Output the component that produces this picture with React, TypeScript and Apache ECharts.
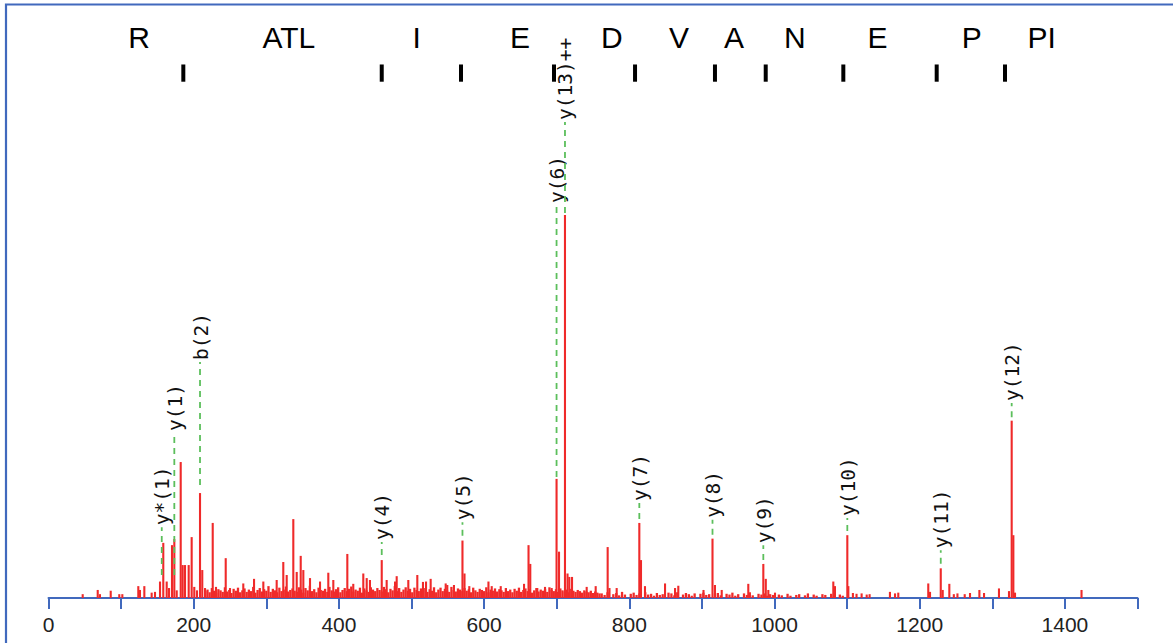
import React, { useEffect, useRef } from "react";
import * as echarts from "echarts";

// Spectrum peaks: [m/z, relative intensity]
const peaks: [number, number][] = [
  [47.1, 1.0], [67.8, 2.1], [70.9, 1.0], [85.7, 1.9], [97.5, 1.0], [101.7, 1.0],
  [123.7, 3.1], [126.0, 2.1], [132.0, 3.1], [142.1, 1.4], [146.7, 1.6], [153.6, 4.3],
  [158.1, 14.4], [162.8, 4.3], [166.0, 2.6], [170.1, 13.8], [173.3, 15.4], [176.6, 2.0],
  [182.1, 35.5], [184.8, 8.6], [188.0, 8.6], [193.1, 8.6], [197.2, 15.9], [200.8, 2.9],
  [204.5, 2.0], [208.7, 27.4], [211.8, 7.3], [215.6, 2.6], [226.2, 19.6], [230.7, 2.9],
  [244.1, 10.4], [250.0, 2.6], [268.3, 3.8], [283.1, 5.0], [295.9, 4.3], [314.3, 4.7],
  [323.4, 9.4], [328.1, 6.0], [337.2, 20.6], [341.9, 6.8], [347.4, 11.0], [351.0, 7.3],
  [360.2, 5.2], [374.0, 4.3], [385.4, 6.6], [392.3, 4.7], [411.6, 11.5], [419.8, 3.7],
  [433.6, 6.4], [438.3, 5.2], [442.8, 4.7], [459.0, 9.9], [465.8, 4.7], [477.3, 4.3],
  [479.6, 5.7], [495.6, 4.7], [508.0, 6.0], [515.8, 4.2], [520.0, 4.3], [526.4, 5.0],
  [547.1, 3.8], [549.3, 3.4], [558.5, 3.4], [570.2, 15.0], [573.0, 6.4], [579.6, 3.1],
  [606.0, 4.3], [610.5, 3.1], [622.9, 3.1], [655.0, 3.7], [661.2, 13.8], [663.6, 8.9],
  [673.3, 2.6], [683.9, 2.9], [693.1, 2.6], [699.8, 31.1], [703.2, 12.1], [711.4, 100],
  [714.9, 6.4], [717.4, 5.5], [721.1, 5.5], [741.3, 2.9], [753.7, 3.1], [770.2, 13.3],
  [772.7, 2.6], [782.6, 2.6], [813.8, 19.6], [816.1, 9.9], [821.6, 3.1], [849.2, 3.8],
  [863.0, 2.6], [867.5, 3.2], [902.2, 2.1], [914.6, 15.5], [918.0, 3.4], [927.3, 2.1],
  [963.9, 3.7], [984.6, 8.9], [988.0, 5.0], [991.5, 2.1], [1000.7, 1.4], [1081.0, 4.3],
  [1083.3, 3.1], [1100.3, 16.4], [1101.7, 3.1], [1108, 1.3], [1113, 1.1], [1120, 1.2],
  [1127, 0.9], [1131, 1.0], [1159, 1.6], [1166, 1.2], [1170.5, 1.4], [1211.8, 3.8],
  [1214.2, 1.6], [1229.0, 7.75], [1231.7, 2.1], [1240.8, 3.7], [1247, 1.0], [1252, 1.2],
  [1262, 1.0], [1269.3, 1.3], [1282.2, 2.1], [1288.6, 1.3], [1309.2, 2.5], [1323.0, 1.8],
  [1326.7, 46.3], [1329.0, 16.4], [1331.3, 1.4], [1422.9, 2.1],
];

// Dense noise floor, m/z 216..759 every 3
const denseNoiseStart = 216;
const denseNoiseStep = 3;
const denseNoise = [
  1.8, 2.2, 1.5, 2.6, 1.9, 1.4, 2.3, 2.0, 1.6, 2.8, 1.7, 2.1, 1.3, 2.4, 1.9, 2.7, 1.5, 2.0, 2.5, 1.6,
  2.2, 1.8, 2.9, 1.4, 2.1, 2.6, 1.7, 2.3, 1.9, 3.1, 1.6, 2.4, 2.0, 1.5, 2.7, 1.8, 2.2, 3.0, 1.7, 2.1,
  2.5, 1.9, 1.6, 2.8, 2.2, 1.4, 2.6, 2.0, 3.2, 1.8, 2.3, 1.5, 2.7, 2.1, 1.9, 2.4, 1.6, 2.9, 2.0, 1.7,
  2.3, 2.8, 1.5, 2.1, 2.6, 1.8, 2.4, 3.0, 1.7, 2.2, 1.9, 2.7, 1.4, 2.5, 2.0, 1.6, 2.8, 2.2, 1.8, 2.6,
  2.1, 1.7, 2.9, 2.3, 1.5, 2.4, 2.0, 3.1, 1.8, 2.6, 1.6, 2.2, 2.8, 1.9, 2.4, 1.5, 2.7, 2.1, 1.8, 2.5,
  2.0, 2.6, 1.6, 2.3, 1.9, 2.8, 1.5, 2.2, 2.7, 1.8, 2.4, 2.0, 1.6, 2.9, 2.1, 1.7, 2.5, 2.2, 1.8, 2.6,
  1.9, 2.3, 1.5, 2.7, 2.0, 1.6, 2.4, 2.1, 1.8, 2.8, 1.5, 2.2, 1.9, 2.5, 1.7, 2.3, 2.0, 1.6, 2.6, 1.8,
  2.2, 1.5, 2.4, 1.9, 2.7, 1.6, 2.1, 2.5, 1.8, 2.3, 1.4, 2.0, 2.6, 1.7, 2.2, 1.9, 2.4, 1.6, 2.8, 2.1,
  1.8, 2.3, 1.6, 2.5, 2.0, 1.7, 2.2, 1.5, 2.4, 1.9, 1.6, 2.1, 1.8, 1.4, 2.0, 1.7, 1.5, 1.9, 1.3, 1.7,
  1.4, 1.2,
];

// Sparse noise floor, m/z 762..1098 every 4
const sparseNoiseStart = 762;
const sparseNoiseStep = 4;
const sparseNoise = [
  1.2, 0.8, 1.5, 0, 1.0, 1.3, 0.7, 1.6, 0.9, 0, 1.1, 1.4, 0.8, 1.2, 0, 1.5, 0.9, 1.1, 0.6, 1.3,
  0.8, 1.0, 0, 1.4, 1.2, 0.7, 1.5, 0, 0.9, 1.3, 1.0, 0.6, 1.2, 0, 1.1, 1.4, 0.8, 1.0, 0, 1.2,
  1.3, 0.7, 0, 1.1, 0.9, 1.4, 0.6, 1.0, 0, 1.2, 0.8, 1.5, 0.7, 0, 1.1, 0.9, 1.2, 0.6, 1.0, 0.8,
  0, 0.9, 0.7, 0, 1.1, 0.6, 0, 0.8, 1.0, 0, 0.7, 1.2, 0, 0.9, 0.6, 0, 1.0, 0.8, 0, 1.1,
  0.7, 0, 0.9, 0.6, 0,
];

// Annotated fragment ions
const ionLabels = ["y*(1)", "y(1)", "b(2)", "y(4)", "y(5)", "y(6)", "y(13)++", "y(7)", "y(8)", "y(9)", "y(10)", "y(11)", "y(12)"];
const ionMz = [156.0, 173.3, 208.7, 459.0, 570.2, 699.8, 711.4, 813.8, 914.6, 984.6, 1100.3, 1229.0, 1326.7];
const ionFrom = [5.5, 5.5, 29.0, 10.7, 15.7, 31.1, 100, 20.1, 16.0, 9.4, 17.0, 8.4, 46.7];
const ionLabelAt = [18.5, 43.1, 61.6, 14.6, 19.8, 102.6, 124.3, 24.8, 20.4, 13.8, 20.9, 12.5, 50.9];

// Sequence ladder
const seqTickMz = [185.7, 459.0, 568.2, 696.3, 807.9, 918.0, 987.9, 1094.8, 1223.4, 1317.5];
const seqLetters = ["R", "ATL", "I", "E", "D", "V", "A", "N", "E", "P", "PI"];
const seqLetterMz = [124.7, 331, 507, 649.4, 775.8, 868.5, 944.2, 1028, 1141.9, 1271.6, 1368];

const xTickValues = [0, 200, 400, 600, 800, 1000, 1200, 1400];

const RED = "#ef2a2a";
const BLUE = "#4169bd";
const GREEN = "#5cbf5c";

export default function App() {
  const ref = useRef<HTMLDivElement>(null);

  useEffect(() => {
    if (!ref.current) return;
    const chart = echarts.init(ref.current, undefined, { renderer: "svg" });

    const noiseData: [number, number][] = [];
    denseNoise.forEach((v, i) => noiseData.push([denseNoiseStart + i * denseNoiseStep, v]));
    sparseNoise.forEach((v, i) => noiseData.push([sparseNoiseStart + i * sparseNoiseStep, v]));

    const barRender = (w: number) => (params: any, api: any) => {
      const x = api.value(0);
      const v = api.value(1);
      if (!v) return null;
      const b = api.coord([x, 0]);
      const t = api.coord([x, v]);
      return {
        type: "rect",
        shape: { x: b[0] - w / 2, y: t[1], width: w, height: b[1] - t[1] },
        style: { fill: RED },
      };
    };

    const option: any = {
      animation: false,
      grid: { left: 48.5, right: 35.5, top: 23.5, bottom: 45 },
      xAxis: {
        type: "value",
        min: 0,
        max: 1500,
        interval: 100,
        splitLine: { show: false },
        axisLine: { lineStyle: { color: BLUE, width: 2 } },
        axisTick: { length: 11, lineStyle: { color: BLUE, width: 2 } },
        axisLabel: {
          margin: 16,
          color: "#222",
          fontSize: 21,
          fontFamily: "Liberation Sans, Arial, sans-serif",
          formatter: (v: number) => (xTickValues.indexOf(v) >= 0 ? String(v) : ""),
        },
      },
      yAxis: {
        type: "value",
        min: 0,
        max: 150,
        show: false,
        splitLine: { show: false },
      },
      graphic: [
        {
          type: "rect",
          shape: { x: 6, y: 4.5, width: 1200, height: 700 },
          style: { fill: "none", stroke: BLUE, lineWidth: 2.2 },
          silent: true,
        },
      ],
      series: [
        {
          type: "custom",
          silent: true,
          data: noiseData,
          renderItem: barRender(2.3),
          z: 2,
        },
        {
          type: "custom",
          silent: true,
          data: peaks,
          renderItem: barRender(2.1),
          z: 3,
        },
        {
          type: "custom",
          silent: true,
          data: ionMz.map((m, i) => [m, ionLabelAt[i], ionFrom[i]]),
          renderItem: (params: any, api: any) => {
            const i = params.dataIndex;
            const p0 = api.coord([ionMz[i], ionFrom[i]]);
            const p1 = api.coord([ionMz[i], ionLabelAt[i]]);
            return {
              type: "group",
              children: [
                {
                  type: "line",
                  shape: { x1: p0[0], y1: p0[1] - 2, x2: p1[0], y2: p1[1] },
                  style: { stroke: GREEN, lineWidth: 1.8, lineDash: [6, 5] },
                },
                {
                  type: "text",
                  x: p1[0] + 1,
                  y: p1[1] - 2,
                  rotation: Math.PI / 2,
                  style: {
                    text: ionLabels[i],
                    fill: "#111",
                    fontSize: 19.5,
                    fontFamily: "DejaVu Sans Mono, Liberation Mono, monospace",
                    align: "left",
                    verticalAlign: "middle",
                  },
                },
              ],
            };
          },
          z: 4,
        },
        {
          type: "custom",
          silent: true,
          data: seqTickMz.map((m) => [m, 137]),
          renderItem: (params: any, api: any) => {
            const top = api.coord([api.value(0), 139.3]);
            const bot = api.coord([api.value(0), 134.8]);
            return {
              type: "rect",
              shape: { x: top[0] - 2, y: top[1], width: 4, height: bot[1] - top[1] },
              style: { fill: "#000" },
            };
          },
          z: 4,
        },
        {
          type: "custom",
          silent: true,
          data: seqLetterMz.map((m) => [m, 146.3]),
          renderItem: (params: any, api: any) => {
            const p = api.coord([api.value(0), api.value(1)]);
            return {
              type: "text",
              x: p[0],
              y: p[1],
              style: {
                text: seqLetters[params.dataIndex],
                fill: "#000",
                fontSize: 30,
                fontFamily: "Liberation Sans, Arial, sans-serif",
                align: "center",
                verticalAlign: "middle",
              },
            };
          },
          z: 4,
        },
      ],
    };

    chart.setOption(option);
    return () => chart.dispose();
  }, []);

  return (
    <div
      ref={ref}
      style={{ position: "fixed", left: 0, top: 0, width: 1173, height: 643, background: "#fff" }}
    />
  );
}
